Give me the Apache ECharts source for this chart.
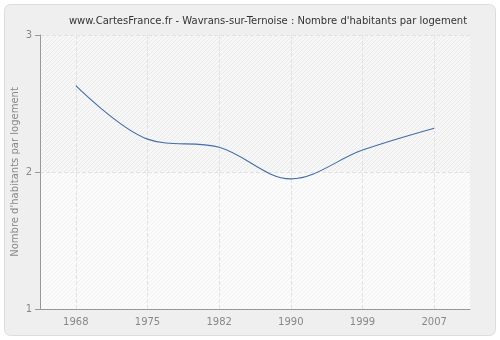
<!DOCTYPE html>
<html>
<head>
    <meta charset="utf-8">
    <title>Wavrans-sur-Ternoise</title>
    <script src="https://cdn.jsdelivr.net/npm/echarts@6/dist/echarts.min.js"></script>
    <style>
        html, body { margin: 0; padding: 0; background: #ffffff; }
        #chart { width: 500px; height: 340px; }
    </style>
</head>
<body>
<div id="chart"></div>
<script>
    // valeurs
    var years = ['1968', '1975', '1982', '1990', '1999', '2007'];
    var habitants = [2.63, 2.24, 2.18, 1.95, 2.16, 2.32];
    var yTicks = [1, 2, 3];

    // motif hachuré du fond
    function hatch(bg, line) {
        var c = document.createElement('canvas');
        c.width = 4;
        c.height = 4;
        var ctx = c.getContext('2d');
        ctx.fillStyle = bg;
        ctx.fillRect(0, 0, 4, 4);
        ctx.fillStyle = line;
        for (var i = 0; i < 4; i++) {
            ctx.fillRect(i, 3 - i, 1, 1);
        }
        return { image: c, repeat: 'repeat' };
    }

    var chart = echarts.init(document.getElementById('chart'));

    var option = {
        backgroundColor: '#ffffff',
        animation: false,
        textStyle: { fontFamily: 'DejaVu Sans' },
        graphic: [
            {
                type: 'rect',
                z: -10,
                shape: { x: 4.5, y: 4.5, width: 491, height: 331, r: 6 },
                style: { fill: '#efefef', stroke: '#dddddd', lineWidth: 1 }
            }
        ],
        title: {
            text: "www.CartesFrance.fr - Wavrans-sur-Ternoise : Nombre d'habitants par logement",
            left: 263,
            top: 11,
            textAlign: 'center',
            textStyle: { fontSize: 10, fontWeight: 'normal', color: '#333333', fontFamily: 'DejaVu Sans' }
        },
        grid: {
            left: 40,
            right: 30,
            top: 35,
            bottom: 31,
            containLabel: false,
            outerBoundsMode: 'none',
            show: false
        },
        xAxis: {
            type: 'category',
            z: 5,
            data: years,
            boundaryGap: true,
            axisLine: { lineStyle: { color: '#999999' } },
            axisTick: { alignWithLabel: true, length: 5, lineStyle: { color: '#999999' } },
            axisLabel: { color: '#888888', fontSize: 10, margin: 8 },
            splitLine: { show: false }
        },
        yAxis: {
            type: 'value',
            z: 5,
            min: yTicks[0],
            max: yTicks[yTicks.length - 1],
            interval: 1,
            name: "Nombre d'habitants par logement",
            nameLocation: 'middle',
            nameGap: 20,
            nameMoveOverlap: false,
            nameTextStyle: { color: '#888888', fontSize: 10 },
            axisLine: { show: true, lineStyle: { color: '#999999' } },
            axisTick: { show: true, length: 5, lineStyle: { color: '#999999' } },
            axisLabel: { color: '#888888', fontSize: 10, margin: 8 },
            splitLine: { show: true, lineStyle: { color: '#e2e2e2', type: 'dashed' } }
        },
        series: [
            {
                type: 'line',
                z: 6,
                data: habitants,
                smooth: 0.35,
                symbol: 'none',
                lineStyle: { color: '#416da8', width: 1.1 },
                markArea: {
                    silent: true,
                    z: 1,
                    data: [
                        [{ yAxis: 2, itemStyle: { color: hatch('#f7f7f7', '#eaeaea') } }, { yAxis: 3 }],
                        [{ yAxis: 1, itemStyle: { color: hatch('#fbfbfb', '#f2f2f2') } }, { yAxis: 2 }]
                    ]
                },
                markLine: {
                    silent: true,
                    symbol: 'none',
                    label: { show: false },
                    lineStyle: { color: '#e2e2e2', type: 'dashed', width: 1 },
                    data: years.map(function (y) { return { xAxis: y }; })
                }
            }
        ]
    };
    chart.setOption(option);
</script>
</body>
</html>
